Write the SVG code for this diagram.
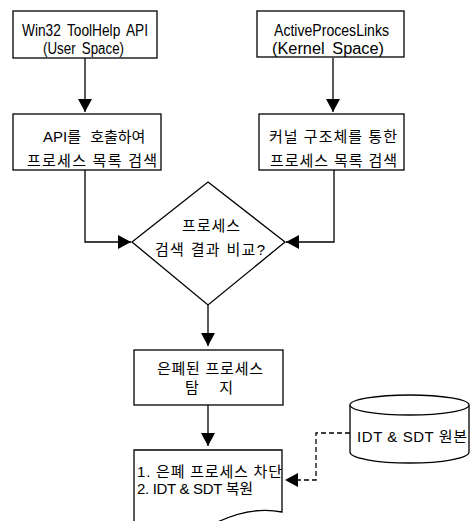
<svg xmlns="http://www.w3.org/2000/svg" width="474" height="521" viewBox="0 0 474 521">
  <defs>
    <marker id="arrow" viewBox="0 0 14 14" refX="13" refY="7" markerWidth="14" markerHeight="14" markerUnits="userSpaceOnUse" orient="auto">
      <path d="M0,0 L13,7 L0,14 Z" fill="#000"/>
    </marker>
    <style>
      .shape { fill: #fff; stroke: #000; stroke-width: 1.3; }
      .line { fill: none; stroke: #000; stroke-width: 1.3; marker-end: url(#arrow); }
      .dash { stroke-dasharray: 5 3; }
      text { font-family: "Liberation Sans", "Noto Sans CJK KR", sans-serif; font-size: 15px; fill: #000; }
      .lat { font-size: 16px; word-spacing: 3px; }
    </style>
  </defs>
  <rect width="474" height="521" fill="#fff"/>

  <g id="connectors">
    <path class="line" d="M85,58 V112"/>
    <path class="line" d="M333,58 V112"/>
    <path class="line" d="M85,170 V242 H131"/>
    <path class="line" d="M334,170 V242 H286"/>
    <path class="line" d="M208,305 V346"/>
    <path class="line" d="M208,405 V446"/>
    <path class="line dash" d="M350,433 H316 V480 H285"/>
  </g>

  <g id="toolhelp-api">
    <rect class="shape" x="13" y="11" width="144" height="47"/>
    <text class="lat" x="22" y="36" textLength="126" lengthAdjust="spacingAndGlyphs">Win32 ToolHelp API</text>
    <text class="lat" x="43" y="54" textLength="81" lengthAdjust="spacingAndGlyphs">(User Space)</text>
  </g>

  <g id="active-process-links">
    <rect class="shape" x="257" y="11" width="147" height="46"/>
    <text class="lat" x="274" y="36" textLength="115" lengthAdjust="spacingAndGlyphs">ActiveProcesLinks</text>
    <text class="lat" x="272" y="54" textLength="112" lengthAdjust="spacingAndGlyphs">(Kernel Space)</text>
  </g>

  <g id="api-search">
    <rect class="shape" x="13" y="114" width="148" height="56"/>
    <text x="43" y="142" style="word-spacing:5px">API를 호출하여</text>
    <text x="27" y="166" textLength="130" lengthAdjust="spacing">프로세스 목록 검색</text>
  </g>

  <g id="kernel-search">
    <rect class="shape" x="259" y="114" width="145" height="56"/>
    <text x="269" y="142" textLength="128" lengthAdjust="spacing">커널 구조체를 통한</text>
    <text x="270" y="166" textLength="127" lengthAdjust="spacing">프로세스 목록 검색</text>
  </g>

  <g id="compare">
    <path class="shape" d="M208,182 L285,242 L208,305 L132,242 Z"/>
    <text x="182" y="231" textLength="58" lengthAdjust="spacing">프로세스</text>
    <text x="155" y="255" textLength="110" lengthAdjust="spacing">검색 결과 비교?</text>
  </g>

  <g id="detect">
    <rect class="shape" x="134" y="350" width="149" height="55"/>
    <text x="157" y="374" textLength="106" lengthAdjust="spacing">은폐된 프로세스</text>
    <text x="185" y="393" textLength="48" lengthAdjust="spacing">탐 지</text>
  </g>

  <g id="action">
    <path class="shape" d="M134,450 H282 V512 C262,508 236,511 206,528 C180,543 150,540 134,536 Z"/>
    <text x="137" y="477" textLength="145" lengthAdjust="spacing">1. 은폐 프로세스 차단</text>
    <text x="137" y="494" textLength="116" lengthAdjust="spacing">2. IDT &amp; SDT 복원</text>
  </g>

  <g id="original-tables">
    <path class="shape" d="M350,405 V452 A59.5,11 0 0 0 469,452 V405"/>
    <ellipse class="shape" cx="409.5" cy="405" rx="59.5" ry="10"/>
    <text x="357" y="442" textLength="110" lengthAdjust="spacing">IDT &amp; SDT 원본</text>
  </g>
</svg>
